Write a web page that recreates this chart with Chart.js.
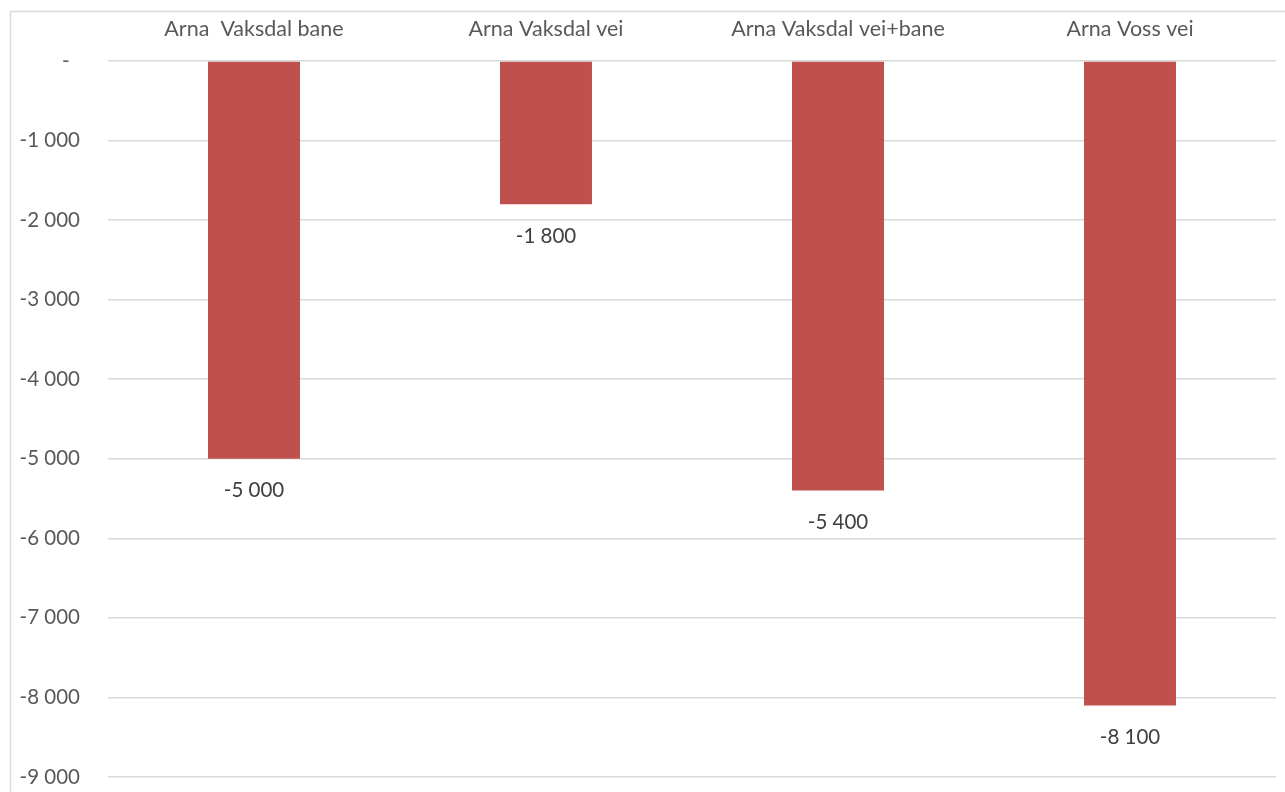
<!DOCTYPE html>
<html>
<head>
<meta charset="utf-8">
<script src="https://cdn.jsdelivr.net/npm/chart.js@4/dist/chart.umd.min.js"></script>
<style>
  html, body { margin: 0; padding: 0; background: #ffffff; }
  #wrap { position: relative; width: 1285px; height: 792px; }
</style>
</head>
<body>
<div id="wrap"><canvas id="c" width="1285" height="792"></canvas></div>
<script>
const categories = ["Arna  Vaksdal bane", "Arna Vaksdal vei", "Arna Vaksdal vei+bane", "Arna Voss vei"];
const values = [-5000, -1800, -5400, -8100];
const yTicks = [0, -1000, -2000, -3000, -4000, -5000, -6000, -7000, -8000, -9000];

const FONT = "Lato, 'Open Sans', sans-serif";

function fmt(v) {
  if (v === 0) return "-  ";
  const s = Math.abs(v).toString().replace(/\B(?=(\d{3})+(?!\d))/g, " ");
  return (v < 0 ? "-" : "") + s;
}

// Outer frame around the chart
const framePlugin = {
  id: 'frame',
  beforeDraw(chart) {
    const ctx = chart.ctx;
    ctx.save();
    ctx.strokeStyle = '#d9d9d9';
    ctx.lineWidth = 1.5;
    ctx.strokeRect(10.5, 11.5, 1400, 900);
    ctx.restore();
  }
};

// Value labels drawn just below each bar end
const valueLabels = {
  id: 'valueLabels',
  afterDatasetsDraw(chart) {
    const ctx = chart.ctx;
    const meta = chart.getDatasetMeta(0);
    ctx.save();
    ctx.font = "20.5px " + FONT;
    ctx.fillStyle = '#404040';
    ctx.textAlign = 'center';
    ctx.textBaseline = 'middle';
    meta.data.forEach((bar, i) => {
      ctx.fillText(fmt(values[i]), bar.x, bar.y + 32);
    });
    ctx.restore();
  }
};

new Chart(document.getElementById('c'), {
  type: 'bar',
  data: {
    labels: categories,
    datasets: [{
      data: values,
      backgroundColor: '#C0504D',
      borderWidth: 0,
      categoryPercentage: 1,
      barPercentage: 0.315
    }]
  },
  options: {
    responsive: false,
    animation: false,
    layout: { padding: { left: 0, right: 9, top: 0, bottom: 15 } },
    plugins: { legend: { display: false }, tooltip: { enabled: false } },
    scales: {
      x: {
        position: 'top',
        grid: { display: false, drawTicks: false },
        border: { display: false },
        ticks: { color: '#595959', font: { family: FONT, size: 21.5 }, padding: 19, maxRotation: 0 },
        afterFit(scale) { scale.height = 61; }
      },
      y: {
        min: -9000,
        max: 0,
        afterBuildTicks(scale) { scale.ticks = yTicks.map(v => ({ value: v })); },
        grid: { color: '#d9d9d9', lineWidth: 1.5, drawTicks: false },
        border: { display: false },
        ticks: {
          color: '#595959',
          font: { family: FONT, size: 20.5 },
          padding: 28,
          callback: (v) => fmt(v)
        },
        afterFit(scale) {
          scale.width = 108;
          scale.paddingTop = 0;
          scale.paddingBottom = 0;
        }
      }
    }
  },
  plugins: [framePlugin, valueLabels]
});
</script>
</body>
</html>
